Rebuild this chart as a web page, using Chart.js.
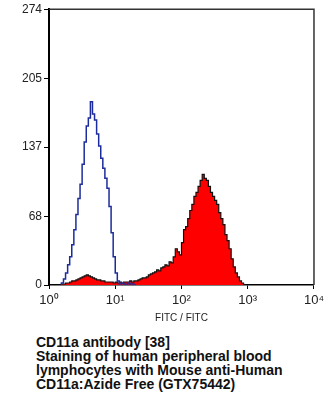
<!DOCTYPE html>
<html>
<head>
<meta charset="utf-8">
<script src="https://cdn.jsdelivr.net/npm/chart.js@4"></script>
<style>
    body { margin: 0; background: #fff; width: 328px; height: 400px; position: relative; overflow: hidden; }
    #plot { position: absolute; left: 0; top: 0; }
    .caption {
        position: absolute;
        left: 36px;
        top: 335px;
        font: bold 14px "Liberation Sans", Arial, sans-serif;
        line-height: 14px;
        color: #111;
    }
</style>
</head>
<body>
<canvas id="plot" width="328" height="330"></canvas>
<div class="caption">
    CD11a antibody [38]<br>
    Staining of human peripheral blood<br>
    lymphocytes with Mouse anti-Human<br>
    CD11a:Azide Free (GTX75442)
</div>
<script>
// histogram channels: 32 bins per decade, 4 decades
const binsPerDecade = 32;

// isotype control (blue outline), counts starting at bin 6
const controlStart = 6;
const controlCounts = [
    0, 2, 6, 12, 20, 28, 40, 55, 70, 86,
    100, 120, 142, 158, 166, 182, 170, 164, 150, 138,
    126, 116, 106, 96, 78, 52, 28, 12, 4, 1,
    2, 1, 0, 2, 1, 1, 0
];

// CD11a stained cells (red fill), counts starting at bin 6
const stainedStart = 6;
const stainedCounts = [
    0, 1, 1, 2, 2, 3, 4, 4, 5, 6,
    7, 8, 9, 10, 9, 8, 7, 6, 5, 5,
    4, 4, 3, 3, 3, 3, 2, 3, 2, 3,
    2, 3, 3, 3, 4, 3, 4, 4, 5, 6,
    7, 7, 8, 10, 11, 12, 13, 15, 14, 17,
    18, 20, 19, 23, 22, 28, 36, 33, 30, 42,
    55, 58, 66, 74, 80, 88, 92, 98, 104, 110,
    106, 104, 98, 92, 88, 84, 80, 72, 66, 60,
    50, 44, 36, 26, 18, 12, 8, 4, 2, 0
];

const yTicks = [0, 68, 137, 205, 274];
const xTicks = [1, 10, 100, 1000, 10000];
const xTickLabels = ["10⁰", "10¹", "10²", "10³", "10⁴"];

function toPoints(start, counts) {
    return counts.map((c, i) => ({ x: Math.pow(10, (start + i) / binsPerDecade), y: c }));
}

// top and right edges of the plot box
const frame = {
    id: "frame",
    afterDraw(chart) {
        const { ctx, chartArea: a } = chart;
        ctx.save();
        ctx.strokeStyle = "#333";
        ctx.lineWidth = 1.5;
        ctx.beginPath();
        ctx.moveTo(a.left, a.top);
        ctx.lineTo(a.right, a.top);
        ctx.lineTo(a.right, a.bottom);
        ctx.stroke();
        ctx.restore();
    }
};

const fontFamily = "'Liberation Sans', Arial, sans-serif";

new Chart(document.getElementById("plot"), {
    type: "line",
    data: {
        datasets: [
            {
                data: toPoints(stainedStart, stainedCounts),
                stepped: "after",
                fill: "origin",
                backgroundColor: "#ff0000",
                borderColor: "#111",
                borderWidth: 1.2,
                pointRadius: 0,
                order: 2,
            },
            {
                data: toPoints(controlStart, controlCounts),
                stepped: "after",
                fill: false,
                borderColor: "#1c2c9c",
                borderWidth: 1.5,
                pointRadius: 0,
                order: 1,
            },
        ],
    },
    options: {
        responsive: false,
        animation: false,
        devicePixelRatio: 1,
        layout: { padding: { top: 9, right: 10, left: 0, bottom: 0 } },
        plugins: { legend: { display: false }, tooltip: { enabled: false } },
        scales: {
            x: {
                type: "logarithmic",
                min: 1,
                max: 10000,
                afterBuildTicks: (scale) => { scale.ticks = xTicks.map(v => ({ value: v })); },
                afterFit: (scale) => { scale.height = 45; },
                ticks: {
                    callback: (value, index) => xTickLabels[index],
                    color: "#222",
                    font: { family: fontFamily, size: 13 },
                    padding: 4,
                    maxRotation: 0,
                },
                grid: { drawOnChartArea: false, tickLength: 4, color: "#000" },
                border: { color: "#000", width: 1.5 },
                title: {
                    display: true,
                    text: "FITC / FITC",
                    color: "#222",
                    font: { family: fontFamily, size: 10 },
                    padding: { top: 0, bottom: 6 },
                },
            },
            y: {
                min: 0,
                max: 274,
                afterBuildTicks: (scale) => { scale.ticks = yTicks.map(v => ({ value: v })); },
                afterFit: (scale) => { scale.width = 49; },
                ticks: { color: "#222", font: { family: fontFamily, size: 12 }, padding: 2 },
                grid: { drawOnChartArea: false, tickLength: 5, color: "#000" },
                border: { color: "#000", width: 2 },
            },
        },
    },
    plugins: [frame],
});
</script>
</body>
</html>
